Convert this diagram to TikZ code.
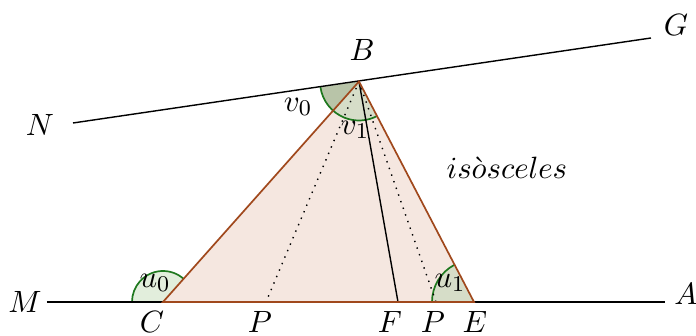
\documentclass[tikz,border=0pt]{standalone}
\usetikzlibrary{calc}
\definecolor{trifill}{RGB}{245,231,224}
\definecolor{tribrown}{RGB}{160,72,28}
\definecolor{angline}{RGB}{30,120,30}
\definecolor{angpale}{RGB}{226,238,220}
\definecolor{angmid}{RGB}{214,221,200}
\definecolor{angdark}{RGB}{184,196,168}
\tikzset{
  side/.style={draw=tribrown,line width=0.6pt},
  angarc/.style={draw=angline,line width=0.6pt},
}
\begin{document}
\begin{tikzpicture}[x=0.0125cm,y=0.0125cm,line width=0.5pt,
  every node/.style={font=\fontsize{11}{13}\selectfont}]
\useasboundingbox (0,0) rectangle (696,336);
\coordinate (C) at (163,34);
\coordinate (E) at (474,34);
\coordinate (B) at (359,254.5);
\coordinate (F) at (398,34);
\coordinate (P1) at (266,34);
\coordinate (P2) at (436,34);
\coordinate (M) at (47,34);
\coordinate (A) at (665,34);
\coordinate (N) at (73,213);
\coordinate (G) at (651,298);

% triangle
\fill[trifill] (C) -- (B) -- (E) -- cycle;

% angles
\fill[angpale] (C) -- ++(48.37:31) arc[start angle=48.37,end angle=180,radius=31] -- cycle;
\draw[angarc] ($(C)+(48.37:31)$) arc[start angle=48.37,end angle=180,radius=31];
\fill[angmid] (E) -- ++(117.54:42) arc[start angle=117.54,end angle=180,radius=42] -- cycle;
\draw[angarc] ($(E)+(117.54:42)$) arc[start angle=117.54,end angle=180,radius=42];
\fill[angdark] (B) -- ++(188.26:39) arc[start angle=188.26,end angle=228.37,radius=39] -- cycle;
\fill[angmid] (B) -- ++(228.37:39) arc[start angle=228.37,end angle=297.54,radius=39] -- cycle;
\draw[angarc] ($(B)+(188.26:39)$) arc[start angle=188.26,end angle=297.54,radius=39];

% lines
\draw (M) -- (A);
\draw (N) -- (G);
\draw[dotted] (B) -- (P1);
\draw[dotted] (B) -- (P2);
\draw (B) -- (F);
\draw[side] (C) -- (B) -- (E) -- cycle;

% labels
\node at (25,34) {$M$};
\node at (686,42) {$A$};
\node at (40,211) {$N$};
\node at (676,311) {$G$};
\node at (362,286) {$B$};
\node at (152,14) {$C$};
\node at (260,14) {$P$};
\node at (390,14) {$F$};
\node at (433,14) {$P$};
\node at (475,14) {$E$};
\node at (155,53) {$u_0$};
\node at (450,53) {$u_1$};
\node at (298,229) {$v_0$};
\node at (355,206) {$v_1$};
\node at (507,168) {$is\grave{o}sceles$};
\end{tikzpicture}
\end{document}
